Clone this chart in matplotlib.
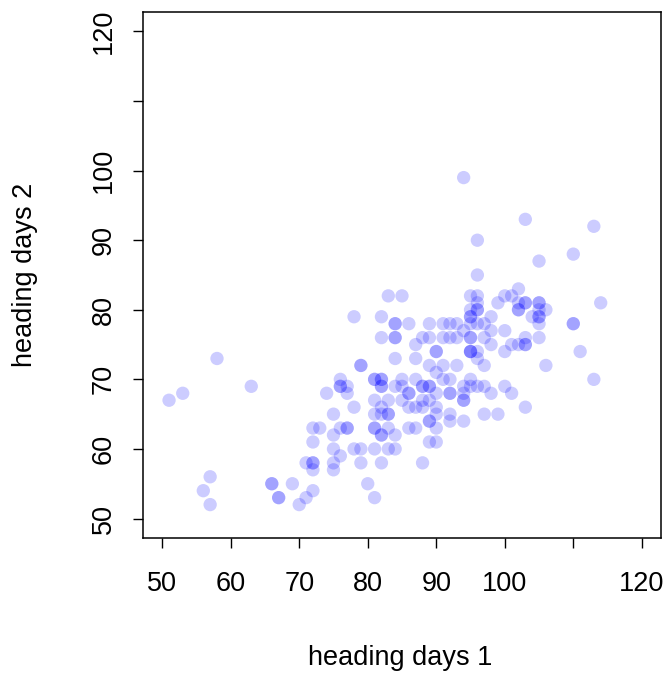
import matplotlib.pyplot as plt

plt.rcParams['font.family'] = ['Liberation Sans', 'DejaVu Sans']

# heading days of the same lines, trial 1 vs trial 2
days1 = [51, 53, 58, 63, 56, 57, 57, 66, 66, 67, 67, 69, 70, 71, 72, 71, 72, 72, 72, 72,
         72, 73, 74, 75, 75, 75, 75, 75, 76, 76, 76, 76, 77, 77, 76, 77, 77, 78, 78, 79,
         79, 79, 79, 78, 80, 81, 81, 82, 83, 82, 82, 81, 81, 81, 81, 81, 81, 82, 82, 82,
         82, 82, 82, 83, 83, 83, 83, 84, 84, 84, 82, 82, 83, 85, 84, 84, 84, 84, 85, 84,
         85, 86, 86, 86, 86, 86, 87, 87, 87, 87, 88, 88, 88, 88, 88, 88, 89, 89, 89, 89,
         89, 89, 89, 89, 89, 90, 90, 90, 90, 90, 90, 90, 91, 91, 91, 92, 92, 92, 92, 92,
         92, 93, 94, 94, 94, 94, 95, 95, 95, 95, 95, 95, 95, 95, 95, 95, 95, 95, 94, 96,
         96, 96, 96, 96, 96, 96, 96, 97, 97, 97, 97, 98, 98, 98, 98, 99, 99, 100, 100, 100,
         100, 101, 101, 101, 102, 102, 102, 102, 102, 103, 103, 103, 103, 103, 103, 103, 104, 105, 105, 105,
         105, 105, 105, 105, 105, 106, 106, 110, 113, 114, 110, 110, 111, 113,
         85, 87, 90, 91, 93, 93, 94, 92, 94, 96, 96, 97]
days2 = [67, 68, 73, 69, 54, 56, 52, 55, 55, 53, 53, 55, 52, 53, 54, 58, 58, 58, 57, 61,
         63, 63, 68, 65, 62, 60, 58, 57, 59, 70, 69, 69, 69, 68, 63, 63, 63, 66, 60, 60,
         58, 72, 72, 79, 55, 53, 60, 58, 60, 62, 62, 63, 63, 65, 67, 70, 70, 70, 70, 69,
         69, 66, 65, 65, 65, 63, 67, 60, 62, 73, 76, 79, 82, 82, 78, 78, 76, 76, 70, 69,
         69, 68, 68, 66, 63, 78, 73, 75, 66, 63, 76, 58, 69, 69, 67, 66, 69, 69, 67, 64,
         64, 61, 72, 76, 78, 74, 74, 68, 66, 65, 63, 61, 78, 76, 72, 78, 76, 68, 68, 65,
         64, 78, 69, 67, 64, 99, 82, 79, 79, 80, 78, 76, 76, 74, 74, 74, 70, 69, 67, 82,
         81, 80, 80, 90, 85, 73, 69, 72, 69, 65, 78, 79, 77, 75, 68, 81, 65, 82, 77, 74,
         69, 82, 75, 68, 83, 81, 80, 80, 75, 76, 75, 75, 81, 81, 66, 93, 79, 81, 81, 79,
         79, 80, 78, 76, 87, 80, 72, 88, 92, 81, 78, 78, 74, 70,
         67, 70, 71, 70, 72, 76, 77, 70, 68, 74, 78, 76]

ticks = [50, 60, 70, 80, 90, 100, 110, 120]
tick_labels = ['50', '60', '70', '80', '90', '100', '', '120']

fig = plt.figure(figsize=(6.66, 6.73), dpi=100)
ax = fig.add_axes([143 / 666, 1 - 538 / 673, 518 / 666, 526 / 673])

ax.scatter(days1, days2, s=92, color=(0, 0, 1, 0.2), edgecolors='none')

ax.set_xlim(47.2, 122.8)
ax.set_ylim(47.2, 122.8)
ax.set_xticks(ticks)
ax.set_xticklabels(tick_labels)
ax.set_yticks(ticks)
ax.set_yticklabels(tick_labels, rotation=90, va='center')

for s in ax.spines.values():
    s.set_linewidth(1.1)
ax.tick_params(direction='out', length=7, width=1.0, labelsize=19.5)
ax.tick_params(axis='x', pad=17)
ax.tick_params(axis='y', pad=12)

fig.text(400 / 666, 1 - 658 / 673, 'heading days 1', fontsize=19.5, ha='center', va='center')
fig.text(25 / 666, 1 - 275 / 673, 'heading days 2', fontsize=19.5, ha='center', va='center',
         rotation=90)

fig.savefig('out.png', dpi=100)
